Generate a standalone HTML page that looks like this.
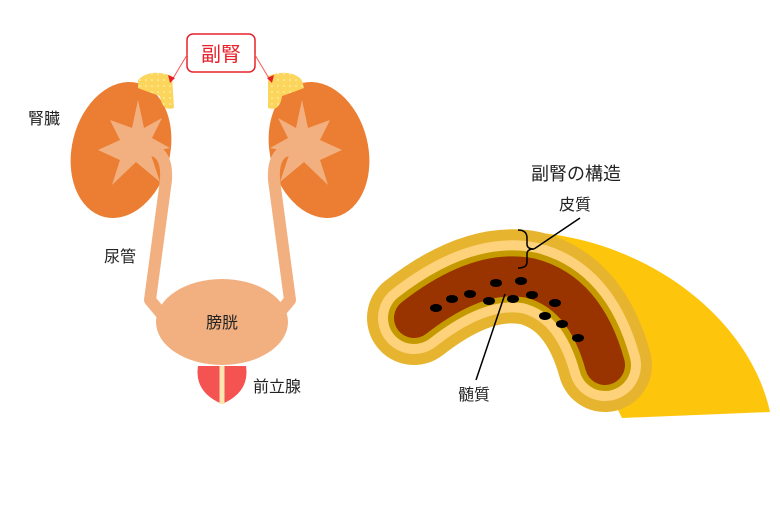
<!DOCTYPE html>
<html><head><meta charset="utf-8"><style>
html,body{margin:0;padding:0;background:#fff;}
svg text{font-family:"Liberation Sans","Noto Sans CJK JP",sans-serif;}
</style></head><body>
<svg width="780" height="500" viewBox="0 0 780 500" xmlns="http://www.w3.org/2000/svg">
<defs>
<pattern id="dots" width="6" height="6" patternUnits="userSpaceOnUse">
<rect width="6" height="6" fill="#fcd55c"/><circle cx="2" cy="2" r="0.8" fill="#fff6c8"/>
</pattern>
</defs>
<!-- kidneys -->
<ellipse cx="121" cy="150" rx="49" ry="69" transform="rotate(14 121 150)" fill="#eb7e32"/>
<ellipse cx="319" cy="150" rx="49" ry="69" transform="rotate(-14 319 150)" fill="#eb7e32"/>
<!-- stars -->
<polygon points="138,100 144,128 162,118 152,138 170,148 150,152 160,182 136,162 112,185 120,160 98,150 120,140 110,120 132,128" fill="#f2b080"/>
<polygon points="302,100 296,128 278,118 288,138 270,148 290,152 280,182 304,162 328,185 320,160 342,150 320,140 330,120 308,128" fill="#f2b080"/>
<!-- ureters -->
<path d="M140 150 Q168 145 166 180 L150 300 L165 318" fill="none" stroke="#f2b080" stroke-width="12" stroke-linejoin="round"/>
<path d="M300 150 Q272 145 274 180 L290 300 L275 318" fill="none" stroke="#f2b080" stroke-width="12" stroke-linejoin="round"/>
<!-- adrenals -->
<path d="M138 80 Q150 68 172 76 L174 108 Q162 112 160 96 Q148 92 138 88 Z" fill="url(#dots)"/>
<path d="M302 80 Q290 68 268 76 L268 108 Q280 112 282 96 Q294 92 304 88 Z" fill="url(#dots)"/>
<!-- bladder -->
<ellipse cx="222" cy="322" rx="66" ry="43" fill="#f2b080"/>
<!-- prostate -->
<path d="M198 366 L246 366 Q250 392 222 404 Q194 392 198 366 Z" fill="#f55252"/>
<rect x="219.5" y="366" width="5" height="38" fill="#fbe6b0"/>
<!-- label box -->
<rect x="187" y="34" width="68" height="38" rx="6" fill="#fff" stroke="#e8202a" stroke-width="1.5"/>
<text x="221" y="61" font-size="20" fill="#e8202a" text-anchor="middle">副腎</text>
<line x1="187" y1="55" x2="172" y2="80" stroke="#f55" stroke-width="1"/>
<polygon points="170,83 168,75 175,78" fill="#e8202a"/>
<line x1="255" y1="55" x2="270" y2="80" stroke="#f55" stroke-width="1"/>
<polygon points="272,83 274,75 267,78" fill="#e8202a"/>
<text x="28" y="124" font-size="16" fill="#222">腎臓</text>
<text x="104" y="262" font-size="16" fill="#222">尿管</text>
<text x="222" y="328" font-size="16" fill="#222" text-anchor="middle">膀胱</text>
<text x="253" y="392" font-size="16" fill="#222">前立腺</text>
<!-- adrenal structure -->
<path d="M530 232 C650 240 750 320 770 412 L622 418 Z" fill="#fdc50c"/>
<g fill="none" stroke-linecap="round" stroke-linejoin="round">
<path d="M414 318 Q478 268 530 278 Q585 292 605 365" stroke="#e6b42e" stroke-width="94"/>
<path d="M414 318 Q478 268 530 278 Q585 292 605 365" stroke="#fdd27a" stroke-width="72"/>
<path d="M414 318 Q478 268 530 278 Q585 292 605 365" stroke="#c49a00" stroke-width="52"/>
<path d="M414 318 Q478 268 530 278 Q585 292 605 365" stroke="#993300" stroke-width="40"/>
</g>
<g fill="#000">
<ellipse cx="436" cy="308" rx="6" ry="4"/><ellipse cx="452" cy="299" rx="6" ry="4"/>
<ellipse cx="470" cy="294" rx="6" ry="4"/><ellipse cx="496" cy="283" rx="6" ry="4"/>
<ellipse cx="521" cy="281" rx="6" ry="4"/><ellipse cx="489" cy="301" rx="6" ry="4"/>
<ellipse cx="513" cy="299" rx="6" ry="4"/><ellipse cx="532" cy="295" rx="6" ry="4"/>
<ellipse cx="555" cy="303" rx="6" ry="4"/><ellipse cx="545" cy="316" rx="6" ry="4"/>
<ellipse cx="562" cy="324" rx="6" ry="4"/><ellipse cx="578" cy="338" rx="6" ry="4"/>
</g>
<path d="M518 230 Q527 230 527 238 L527 244 Q527 249 534 249 Q527 249 527 254 L527 262 Q527 268 518 268" fill="none" stroke="#000" stroke-width="1.5"/>
<line x1="534" y1="249" x2="580" y2="218" stroke="#000" stroke-width="1.5"/>
<line x1="505" y1="294" x2="476" y2="380" stroke="#000" stroke-width="1.5"/>
<text x="576" y="180" font-size="18" fill="#222" text-anchor="middle">副腎の構造</text>
<text x="575" y="210" font-size="16" fill="#222" text-anchor="middle">皮質</text>
<text x="474" y="400" font-size="16" fill="#222" text-anchor="middle">髄質</text>
</svg>
</body></html>
